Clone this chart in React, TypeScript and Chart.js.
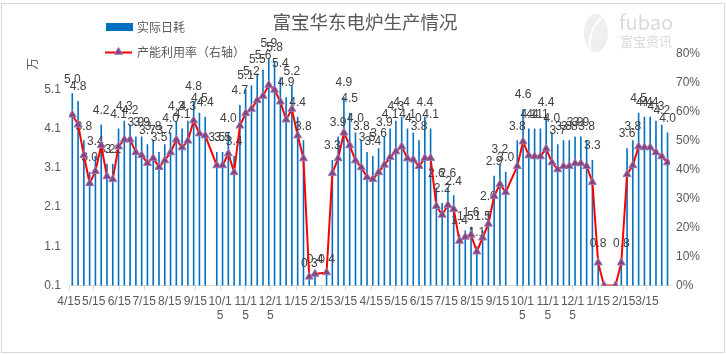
import React, { useEffect, useRef } from "react";
import { Chart, registerables } from "chart.js";

Chart.register(...registerables);

const FONT = '"Noto Sans CJK SC", "Noto Sans", sans-serif';
const NUM_FONT = '"Liberation Sans", Arial, sans-serif';

const chartTitle = "富宝华东电炉生产情况";
const barName = "实际日耗";
const lineName = "产能利用率（右轴）";
const unitLabel = "万";

// weekly observation dates
const weekDates = [
  "2015-04-19", "2015-04-26", "2015-05-03", "2015-05-10", "2015-05-17", "2015-05-24", "2015-05-31",
  "2015-06-07", "2015-06-14", "2015-06-21", "2015-06-28", "2015-07-05", "2015-07-12", "2015-07-19",
  "2015-07-26", "2015-08-02", "2015-08-09", "2015-08-16", "2015-08-23", "2015-08-30", "2015-09-06",
  "2015-09-13", "2015-09-20", "2015-09-27", "2015-10-04", "2015-10-11", "2015-10-18", "2015-10-25",
  "2015-11-01", "2015-11-08", "2015-11-15", "2015-11-22", "2015-11-29", "2015-12-06", "2015-12-13",
  "2015-12-20", "2015-12-27", "2016-01-03", "2016-01-10", "2016-01-17", "2016-01-24", "2016-01-31",
  "2016-02-07", "2016-02-14", "2016-02-21", "2016-02-28", "2016-03-06", "2016-03-13", "2016-03-20",
  "2016-03-27", "2016-04-03", "2016-04-10", "2016-04-17", "2016-04-24", "2016-05-01", "2016-05-08",
  "2016-05-15", "2016-05-22", "2016-05-29", "2016-06-05", "2016-06-12", "2016-06-19", "2016-06-26",
  "2016-07-03", "2016-07-10", "2016-07-17", "2016-07-24", "2016-07-31", "2016-08-07", "2016-08-14",
  "2016-08-21", "2016-08-28", "2016-09-04", "2016-09-11", "2016-09-18", "2016-09-25", "2016-10-02",
  "2016-10-09", "2016-10-16", "2016-10-23", "2016-10-30", "2016-11-06", "2016-11-13", "2016-11-20",
  "2016-11-27", "2016-12-04", "2016-12-11", "2016-12-18", "2016-12-25", "2017-01-01", "2017-01-08",
  "2017-01-15", "2017-01-22", "2017-01-29", "2017-02-05", "2017-02-12", "2017-02-19", "2017-02-26",
  "2017-03-05", "2017-03-12", "2017-03-19", "2017-03-26", "2017-04-02", "2017-04-09",
];

// 实际日耗 (万)
const dailyUse: (number | null)[] = [
  5.0, 4.8, 3.8, 3.0, 3.4, 4.2, 3.2, 3.2, 4.1, 4.3,
  4.2, 3.9, 3.9, 3.7, 3.8, 3.5, 3.7, 4.0, 4.3, 4.1,
  4.3, 4.8, 4.5, 4.4, null, 3.5, 3.5, 4.0, 3.4, 4.7,
  5.1, 5.2, 5.5, 5.6, 5.9, 5.8, 5.4, 4.9, 5.2, 4.4,
  3.8, 0.3, 0.4, null, 0.4, 3.3, 3.9, 4.9, 4.5, 4.0,
  3.8, 3.5, 3.4, 3.6, 3.9, 4.1, 4.3, 4.4, 4.1, 4.0,
  3.8, 4.4, 4.1, 2.6, 2.2, 2.6, 2.4, 1.4, 1.5, 1.6,
  1.1, 1.5, 2.0, 2.9, 3.2, 3.0, null, 3.8, 4.6, 4.1,
  4.1, 4.1, 4.4, 4.0, 3.7, 3.8, 3.8, 3.9, 3.9, 3.8,
  3.3, 0.8, 0, null, 0, 0.8, 3.6, 3.8, 4.5, 4.4,
  4.4, 4.3, 4.2, 4.0,
];

// 产能利用率 (%)
const utilization: (number | null)[] = [
  59, 55.6, 45, 35.3, 39.5, 48.4, 37.7, 36.7, 48, 50.4,
  50.4, 46, 45, 42.3, 44, 40.9, 43.2, 46, 50.4, 47.7,
  50, 57, 52.5, 51.8, null, 41.5, 41.5, 45.6, 39.1, 55.2,
  59.5, 61, 64, 65.5, 69.3, 67.6, 63.5, 57.3, 61, 51.8,
  43.9, 3, 4, null, 4.5, 38.8, 43.9, 52.8, 48.4, 43.2,
  40.8, 37.4, 36.7, 39.1, 41.7, 44.3, 46.3, 48, 43.9, 43.5,
  41.2, 44, 44, 27.4, 24.4, 27.8, 26.4, 15.4, 16.8, 17.5,
  11.7, 16.5, 21.3, 30.9, 35, 32.2, null, 41.2, 49.7, 44.9,
  44.6, 44.6, 47.3, 42.5, 40.1, 41.2, 41.2, 42.2, 42.2, 41.2,
  35.7, 7.9, 0, null, 0, 7.9, 38.4, 41.5, 48, 47.7,
  47.7, 46, 44.6, 42.5,
];

const tickDates = [
  "2015-04-15", "2015-05-15", "2015-06-15", "2015-07-15", "2015-08-15", "2015-09-15",
  "2015-10-15", "2015-11-15", "2015-12-15", "2016-01-15", "2016-02-15", "2016-03-15",
  "2016-04-15", "2016-05-15", "2016-06-15", "2016-07-15", "2016-08-15", "2016-09-15",
  "2016-10-15", "2016-11-15", "2016-12-15", "2017-01-15", "2017-02-15", "2017-03-15",
];
const tickLabels = [
  "4/15", "5/15", "6/15", "7/15", "8/15", "9/15", "10/15", "11/15", "12/15", "1/15", "2/15", "3/15",
  "4/15", "5/15", "6/15", "7/15", "8/15", "9/15", "10/15", "11/15", "12/15", "1/15", "2/15", "3/15",
];
const leftTicks = [0.1, 1.1, 2.1, 3.1, 4.1, 5.1];

const AXIS_START = "2015-04-15";
const AXIS_END = "2017-04-12";

const dayOf = (d: string) => (Date.parse(d) - Date.parse(AXIS_START)) / 86400000;

const BAR_COLOR = "#0070C0";
const LINE_COLOR = "#FF0000";
const MARK_FILL = "#874478";
const MARK_EDGE = "#9A7AB8";
const AXIS_TEXT = "#595959";

function drawTriangle(ctx: CanvasRenderingContext2D, x: number, y: number, r: number) {
  ctx.beginPath();
  for (let k = 0; k < 3; k++) {
    const a = (k * 2 * Math.PI) / 3;
    const px = x + Math.sin(a) * r;
    const py = y - Math.cos(a) * r;
    if (k === 0) ctx.moveTo(px, py);
    else ctx.lineTo(px, py);
  }
  ctx.closePath();
  ctx.fillStyle = MARK_FILL;
  ctx.fill();
  ctx.strokeStyle = MARK_EDGE;
  ctx.lineWidth = 1;
  ctx.stroke();
}

const decorPlugin = {
  id: "decor",
  beforeDraw(chart: any) {
    const ctx = chart.ctx as CanvasRenderingContext2D;
    ctx.save();
    ctx.fillStyle = "#ffffff";
    ctx.fillRect(0, 0, chart.width, chart.height);
    ctx.restore();
  },
  afterDatasetDraw(chart: any, args: any) {
    if (args.meta.type !== "bar") return;
    const ctx = chart.ctx as CanvasRenderingContext2D;
    ctx.save();
    ctx.font = `12px ${NUM_FONT}`;
    ctx.fillStyle = "#404040";
    ctx.textAlign = "center";
    ctx.textBaseline = "middle";
    args.meta.data.forEach((el: any, i: number) => {
      const v = dailyUse[i];
      if (v === null || v === undefined || v <= 0) return;
      ctx.fillText(v.toFixed(1), el.x, el.y - 14);
    });
    ctx.restore();
  },
  afterDraw(chart: any) {
    const ctx = chart.ctx as CanvasRenderingContext2D;
    ctx.save();
    // border
    ctx.strokeStyle = "#d9d9d9";
    ctx.lineWidth = 1;
    ctx.strokeRect(1.5, 3.5, 723, 349);
    // title
    ctx.fillStyle = AXIS_TEXT;
    ctx.font = `18.5px ${FONT}`;
    ctx.textAlign = "center";
    ctx.textBaseline = "middle";
    ctx.fillText(chartTitle, 365, 22);
    // legend
    ctx.fillStyle = BAR_COLOR;
    ctx.fillRect(106, 23, 27, 8);
    ctx.font = `12px ${FONT}`;
    ctx.textAlign = "left";
    ctx.fillStyle = AXIS_TEXT;
    ctx.fillText(barName, 137, 27);
    ctx.strokeStyle = LINE_COLOR;
    ctx.lineWidth = 2;
    ctx.beginPath();
    ctx.moveTo(105, 52.5);
    ctx.lineTo(132, 52.5);
    ctx.stroke();
    drawTriangle(ctx, 118.5, 52, 4.6);
    ctx.fillStyle = AXIS_TEXT;
    ctx.fillText(lineName, 137, 52);
    // unit
    ctx.save();
    ctx.translate(32.5, 64);
    ctx.rotate(-Math.PI / 2);
    ctx.font = `12px ${FONT}`;
    ctx.textAlign = "center";
    ctx.textBaseline = "middle";
    ctx.fillText(unitLabel, 0, 0);
    ctx.restore();
    // watermark
    ctx.fillStyle = "#efefef";
    ctx.beginPath();
    ctx.ellipse(596, 33, 12, 19, 0, 0, Math.PI * 2);
    ctx.fill();
    ctx.strokeStyle = "#ffffff";
    ctx.lineWidth = 2;
    ctx.beginPath();
    ctx.moveTo(590, 50);
    ctx.quadraticCurveTo(588, 28, 604, 16);
    ctx.stroke();
    ctx.fillStyle = "#dadada";
    ctx.font = `20px ${FONT}`;
    ctx.textAlign = "left";
    ctx.fillText("fubao", 619, 22);
    ctx.font = `13px ${FONT}`;
    ctx.fillText("富宝资讯", 620, 41);
    ctx.restore();
  },
};

export default function App() {
  const ref = useRef<HTMLCanvasElement>(null);
  useEffect(() => {
    document.body.style.margin = "0";
    const canvas = ref.current;
    if (!canvas) return;
    const chart = new Chart(canvas, {
      type: "bar",
      data: {
        datasets: [
          {
            type: "line",
            label: lineName,
            data: weekDates.map((d, i) => ({ x: dayOf(d), y: utilization[i] })) as any,
            yAxisID: "y1",
            borderColor: LINE_COLOR,
            borderWidth: 2,
            pointStyle: "triangle",
            pointRadius: 4.6,
            pointBackgroundColor: MARK_FILL,
            pointBorderColor: MARK_EDGE,
            pointBorderWidth: 1,
            spanGaps: true,
            tension: 0,
            order: 0,
          } as any,
          {
            type: "bar",
            label: barName,
            data: weekDates.map((d, i) => ({ x: dayOf(d), y: dailyUse[i] })) as any,
            yAxisID: "y",
            backgroundColor: BAR_COLOR,
            barThickness: 1.6,
            maxBarThickness: 1.6,
            inflateAmount: 0,
            borderWidth: 0,
            order: 1,
          } as any,
        ],
      },
      options: {
        responsive: false,
        maintainAspectRatio: false,
        animation: false,
        layout: { padding: { top: 54, left: 0, right: 0, bottom: 0 } },
        plugins: {
          legend: { display: false },
          title: { display: false },
          tooltip: { enabled: false },
        },
        scales: {
          x: {
            type: "linear",
            offset: false,
            min: 0,
            max: dayOf(AXIS_END),
            afterBuildTicks: (s: any) => {
              s.ticks = tickDates.map((d) => ({ value: dayOf(d) }));
            },
            afterFit: (s: any) => {
              s.height = 69.5;
              s.paddingLeft = 0;
              s.paddingRight = 0;
            },
            ticks: {
              autoSkip: false,
              maxRotation: 0,
              minRotation: 0,
              padding: 4,
              color: AXIS_TEXT,
              font: { size: 12, family: NUM_FONT },
              callback: (_v: any, i: number) => {
                const t = tickLabels[i] ?? "";
                return t.length > 4 ? [t.slice(0, 4), t.slice(4)] : t;
              },
            },
            grid: { offset: false, drawOnChartArea: false, drawTicks: true, tickLength: 5, color: "#d9d9d9" },
            border: { display: true, color: "#d9d9d9" },
          },
          y: {
            position: "left",
            min: 0.1,
            max: 6,
            afterBuildTicks: (s: any) => {
              s.ticks = leftTicks.map((v) => ({ value: v }));
            },
            afterFit: (s: any) => {
              s.width = 69;
              s.paddingTop = 0;
              s.paddingBottom = 0;
            },
            ticks: {
              padding: 8,
              color: AXIS_TEXT,
              font: { size: 12, family: NUM_FONT },
              callback: (v: any) => Number(v).toFixed(1),
            },
            grid: { display: false, drawTicks: false },
            border: { display: false },
          },
          y1: {
            position: "right",
            min: 0,
            max: 80,
            afterFit: (s: any) => {
              s.width = 56;
              s.paddingTop = 0;
              s.paddingBottom = 0;
            },
            ticks: {
              stepSize: 10,
              padding: 6,
              color: AXIS_TEXT,
              font: { size: 12, family: NUM_FONT },
              callback: (v: any) => `${v}%`,
            },
            grid: { display: false, drawTicks: false },
            border: { display: false },
          },
        },
      } as any,
      plugins: [decorPlugin],
    });
    return () => chart.destroy();
  }, []);
  return (
    <div style={{ width: 726, height: 355 }}>
      <canvas ref={ref} width={726} height={355} style={{ display: "block", width: 726, height: 355 }} />
    </div>
  );
}
